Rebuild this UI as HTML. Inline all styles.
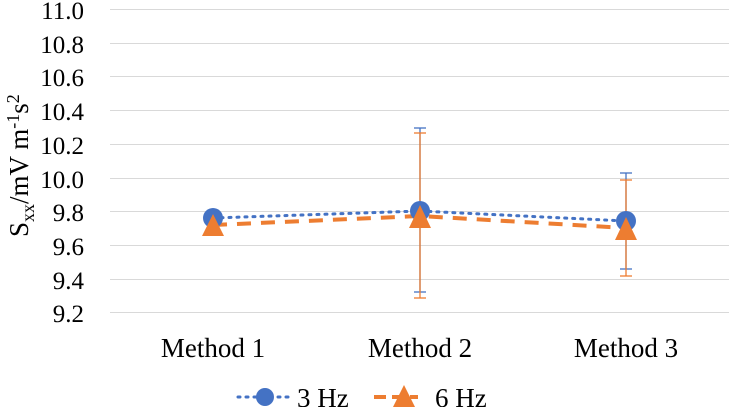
<!DOCTYPE html>
<html><head><style>body{margin:0;background:#fff}svg{display:block}text{font-family:"Liberation Serif",serif;fill:#000}</style></head>
<body><svg width="752" height="407" viewBox="0 0 752 407">
<g stroke="#d9d9d9" stroke-width="1">
<line x1="110" x2="729" y1="9.5" y2="9.5"/><line x1="110" x2="729" y1="43.5" y2="43.5"/><line x1="110" x2="729" y1="76.5" y2="76.5"/><line x1="110" x2="729" y1="110.5" y2="110.5"/><line x1="110" x2="729" y1="144.5" y2="144.5"/><line x1="110" x2="729" y1="178.5" y2="178.5"/><line x1="110" x2="729" y1="211.5" y2="211.5"/><line x1="110" x2="729" y1="245.5" y2="245.5"/><line x1="110" x2="729" y1="279.5" y2="279.5"/><line x1="110" x2="729" y1="312.5" y2="312.5"/>
</g>
<g font-size="25" text-anchor="end">
<text x="84" y="19">11.0</text><text x="84" y="53">10.8</text><text x="84" y="86">10.6</text><text x="84" y="120">10.4</text><text x="84" y="154">10.2</text><text x="84" y="188">10.0</text><text x="84" y="221">9.8</text><text x="84" y="255">9.6</text><text x="84" y="289">9.4</text><text x="84" y="322">9.2</text>
</g>
<text transform="translate(28,237) rotate(-90)" font-size="27">S<tspan font-size="18" dy="6">xx</tspan><tspan dy="-6">/mV m</tspan><tspan font-size="18" dy="-9">-1</tspan><tspan dy="9">s</tspan><tspan font-size="18" dy="-9">2</tspan></text>
<g font-size="27" text-anchor="middle"><text x="213" y="357">Method 1</text><text x="420" y="357">Method 2</text><text x="626" y="357">Method 3</text></g>
<g stroke="#4472c4" stroke-width="1.3">
<line x1="420" x2="420" y1="128" y2="292"/><line x1="414" x2="426" y1="128" y2="128"/><line x1="414" x2="426" y1="292" y2="292"/>
<line x1="626" x2="626" y1="173" y2="269"/><line x1="620" x2="632" y1="173" y2="173"/><line x1="620" x2="632" y1="269" y2="269"/>
<line x1="213" x2="213" y1="211" y2="224"/><line x1="207" x2="219" y1="211" y2="211"/>
</g>
<g stroke="#ed7d31" stroke-width="1.3">
<line x1="420" x2="420" y1="133" y2="298"/><line x1="414" x2="426" y1="133" y2="133"/><line x1="414" x2="426" y1="298" y2="298"/>
<line x1="626" x2="626" y1="180" y2="276"/><line x1="620" x2="632" y1="180" y2="180"/><line x1="620" x2="632" y1="276" y2="276"/>
</g>
<polyline points="213,218 420,211 626,221" fill="none" stroke="#4472c4" stroke-width="3" stroke-dasharray="2,6" stroke-linecap="round"/>
<polyline points="213,225 420,216 626,228" fill="none" stroke="#ed7d31" stroke-width="4" stroke-dasharray="14,10"/>
<g fill="#4472c4"><circle cx="213" cy="218" r="10"/><circle cx="420" cy="211" r="10"/><circle cx="626" cy="221" r="10"/></g>
<g fill="#ed7d31"><polygon points="213,214 202,236 224,236"/><polygon points="420,205 409,228 431,228"/><polygon points="626,217 615,240 637,240"/></g>
<line x1="238" x2="290" y1="397" y2="397" stroke="#4472c4" stroke-width="3" stroke-dasharray="2,6" stroke-linecap="round"/>
<circle cx="265" cy="397" r="9" fill="#4472c4"/>
<text x="297" y="407" font-size="27">3 Hz</text>
<line x1="374" x2="418" y1="397" y2="397" stroke="#ed7d31" stroke-width="4" stroke-dasharray="12,6"/>
<polygon points="404,385 393,407 415,407" fill="#ed7d31"/>
<text x="435" y="407" font-size="27">6 Hz</text>
</svg></body></html>
